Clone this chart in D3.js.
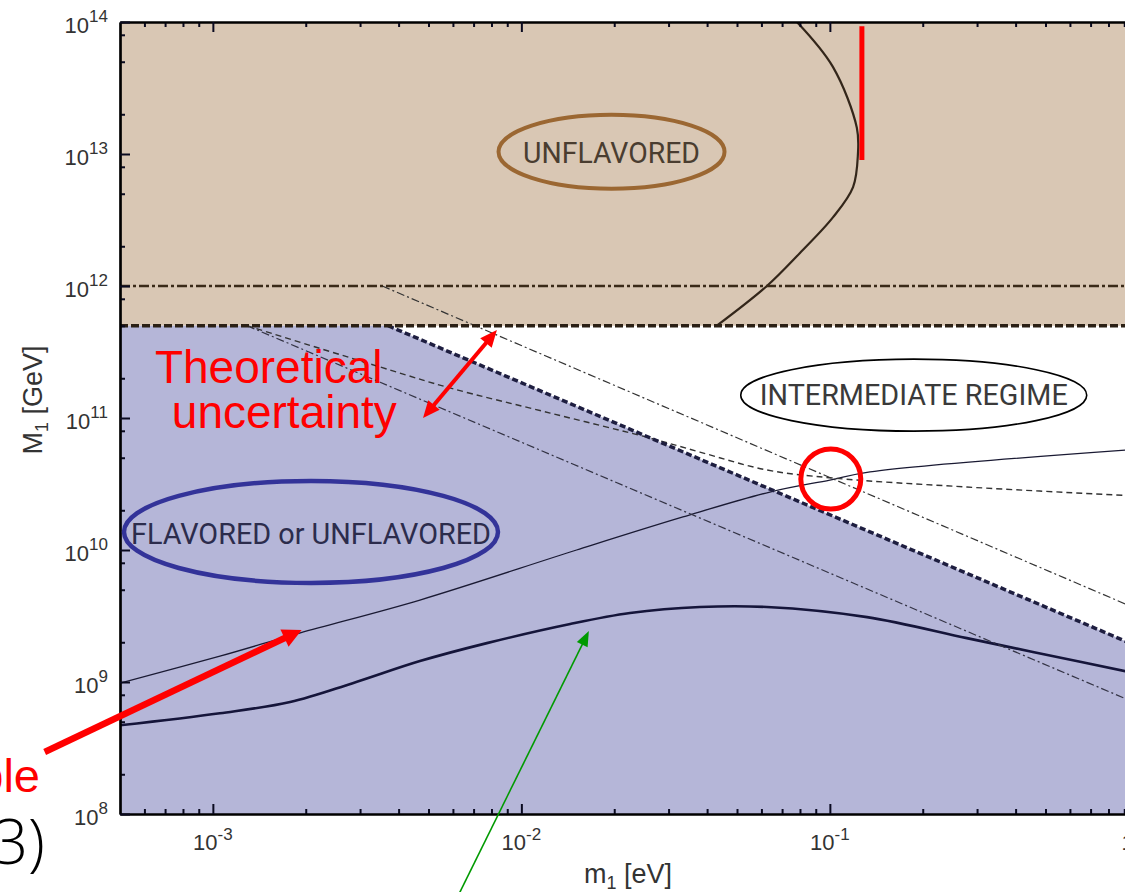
<!DOCTYPE html>
<html><head><meta charset="utf-8">
<script src="https://cdn.jsdelivr.net/npm/d3@7"></script>
<style>body{margin:0;background:#fff}svg{display:block}</style>
</head><body><svg id="c" width="1125" height="892"></svg>
<script>
// ---------------- data ----------------
const xMajorTicks = [1e-3, 1e-2, 1e-1, 1];
const xTickExponents = ["-3", "-2", "-1", "0"];
const yMajorTicks = [1e8, 1e9, 1e10, 1e11, 1e12, 1e13, 1e14];
const yTickExponents = ["8", "9", "10", "11", "12", "13", "14"];
const xMinorMantissas = [2, 3, 4, 5, 6, 7, 8, 9];
const yMinorMantissas = [2, 5, 8];

const unflavoredThreshold = 5e11;     // M1 above which: unflavored
const dashDotLevel = 1e12;            // horizontal dash-dot line
const flavorBoundary = [[3.7e-3, 5e11], [1, 1.85e9]];
const upperDashDot = [[3.54e-3, 1e12], [1, 3.54e9]];
const lowerDashDot = [[1.29e-3, 5e11], [1, 6.8e8]];
const dashedCurve = [[1.29e-3, 5e11], [3.75e-3, 2.31e11], [5.86e-3, 1.69e11], [1.24e-2, 1.09e11],
  [2.61e-2, 7.05e10], [3.79e-2, 5.52e10], [6.25e-2, 4.04e10], [0.102, 3.51e10], [0.278, 3.0e10], [1, 2.56e10]];
const thinSolid = [[5e-4, 9.8e8], [1.054e-3, 1.57e9], [1.91e-3, 2.35e9], [4.69e-3, 4.18e9], [1.51e-2, 1.0e10],
  [3.34e-2, 1.78e10], [6.39e-2, 2.75e10], [0.1, 3.39e10], [0.135, 3.9e10], [1, 5.8e10]];
const thickSolid = [[5e-4, 4.7e8], [1.054e-3, 5.8e8], [1.78e-3, 7.05e8], [2.84e-3, 9.8e8], [4.69e-3, 1.44e9],
  [7.73e-3, 1.97e9], [1.44e-2, 2.75e9], [2.25e-2, 3.33e9], [3.79e-2, 3.7e9], [6.25e-2, 3.7e9],
  [0.132, 3.1e9], [0.278, 2.15e9], [0.455, 1.69e9], [1, 1.15e9]];
const tanCurve = [[0.0782, 1e14], [0.1023, 4.57e13], [0.1223, 1.58e13], [0.1233, 1e13], [0.1189, 5.62e12],
  [0.1023, 3.31e12], [0.08, 1.78e12], [0.0625, 1e12], [0.043, 5e11]];

// annotations (data coordinates)
const redBar = [[0.127, 9.3e13], [0.127, 9.0e12]];
const redCircleCenter = [0.1007, 3.45e10];
const theoryArrow = [[8.33e-3, 4.64e11], [4.8e-3, 1.0e11]];
const bottomRedArrow = [[2.85e-4, 2.95e8], [1.94e-3, 2.48e9]];
const greenArrow = [[6.0e-3, 2.0e7], [1.655e-2, 2.43e9]];
const theoryTextAnchors = [[6.49e-4, 1.84e11], [7.36e-4, 8.4e10]];
const theoryText = ["Theoretical", "uncertainty"];
const regionLabels = [
  {text: "UNFLAVORED", at: [1.96e-2, 1.04e13], rx: 113, ry: 37, stroke: "#9b6732", sw: 4, color: "#4a3d30", len: 177, dy: 11},
  {text: "INTERMEDIATE REGIME", at: [0.187, 1.49e11], rx: 173, ry: 36, stroke: "#000", sw: 1.6, color: "#3a3a3a", len: 308, dy: 10},
  {text: "FLAVORED or UNFLAVORED", at: [2.08e-3, 1.37e10], rx: 187, ry: 51, stroke: "#333399", sw: 4.5, color: "#2c2c4c", len: 360, dy: 12}
];

// ---------------- scales ----------------
const svg = d3.select("#c");
const x = d3.scaleLog().domain([5e-4, 1]).range([120, 120 + 308.5 * Math.log10(1 / 5e-4)]);
const y = d3.scaleLog().domain([1e8, 1e14]).range([814, 22]);
const X0 = x.range()[0], X1 = x.range()[1], Y0 = y.range()[0], Y1 = y.range()[1];

svg.append("defs").append("clipPath").attr("id", "plot")
  .append("rect").attr("x", X0).attr("y", Y1).attr("width", X1 - X0).attr("height", Y0 - Y1);

const plot = svg.append("g").attr("clip-path", "url(#plot)");
const line = d3.line().x(d => x(d[0])).y(d => y(d[1]));
const curve = d3.line().x(d => x(d[0])).y(d => y(d[1])).curve(d3.curveCatmullRom.alpha(0.5));

// fills
plot.append("rect").attr("x", X0).attr("width", X1 - X0)
  .attr("y", y(1e14)).attr("height", y(unflavoredThreshold) - y(1e14)).attr("fill", "#d9c7b4");
const dom = x.domain();
const bluePoly = [[dom[0], unflavoredThreshold], flavorBoundary[0], flavorBoundary[1], [dom[1], 1e8], [dom[0], 1e8]];
plot.append("path").attr("d", line(bluePoly) + "Z").attr("fill", "#b5b6d8");

// lines
function drawLine(data, gen, stroke, width, dash) {
  const p = plot.append("path").attr("d", gen(data)).attr("fill", "none")
    .attr("stroke", stroke).attr("stroke-width", width);
  if (dash) p.attr("stroke-dasharray", dash);
  return p;
}
drawLine(thickSolid, curve, "#15153a", 2.6);
drawLine(thinSolid, curve, "#1a1a33", 1.3);
drawLine(lowerDashDot, line, "#333344", 1.2, "8,3,2,3");
drawLine(upperDashDot, line, "#333", 1.2, "8,3,2,3");
drawLine(dashedCurve, curve, "#333", 1.4, "6,4");
drawLine(flavorBoundary, line, "#1e1e40", 3.5, "6,3");
drawLine(tanCurve, curve, "#33261a", 2.2);
drawLine([[dom[0], dashDotLevel], [dom[1], dashDotLevel]], line, "#3a2a18", 2.5, "10,3,3,3");
drawLine([[dom[0], unflavoredThreshold], [dom[1], unflavoredThreshold]], line, "#2b2015", 3.5, "8,3");

// ---------------- axes ----------------
const xMinor = [];
for (let e = -4; e <= -1; e++) xMinorMantissas.forEach(k => { const v = k * Math.pow(10, e); if (v > dom[0] && v < dom[1]) xMinor.push(v); });
const yMinor = [];
for (let e = 8; e <= 13; e++) yMinorMantissas.forEach(k => yMinor.push(k * Math.pow(10, e)));

function styleAxis(g) {
  g.select(".domain").attr("stroke", "#000").attr("stroke-width", 2.2);
  g.selectAll(".tick line").attr("stroke", "#0a0a20").attr("stroke-width", 2);
  g.selectAll(".tick text").remove();
}
const axB = svg.append("g").attr("transform", `translate(0,${Y0})`);
axB.call(d3.axisBottom(x).tickValues(xMinor).tickSize(-5).tickSizeOuter(0)).call(styleAxis);
axB.append("g").call(d3.axisBottom(x).tickValues(xMajorTicks).tickSize(-10).tickSizeOuter(0)).call(styleAxis);
const axT = svg.append("g").attr("transform", `translate(0,${Y1})`);
axT.call(d3.axisTop(x).tickValues(xMinor).tickSize(-5).tickSizeOuter(0)).call(styleAxis);
axT.append("g").call(d3.axisTop(x).tickValues(xMajorTicks).tickSize(-10).tickSizeOuter(0)).call(styleAxis);
const axL = svg.append("g").attr("transform", `translate(${X0},0)`);
axL.call(d3.axisLeft(y).tickValues(yMinor).tickSize(-5).tickSizeOuter(0)).call(styleAxis);
axL.append("g").call(d3.axisLeft(y).tickValues(yMajorTicks).tickSize(-10).tickSizeOuter(0)).call(styleAxis);

const labelFont = "'Liberation Sans', Arial, sans-serif";
xMajorTicks.forEach((v, i) => {
  const t = axB.append("text").attr("x", x(v)).attr("y", 36).attr("text-anchor", "middle")
    .attr("font-family", labelFont).attr("font-size", 22).attr("fill", "#333");
  t.append("tspan").text("10");
  t.append("tspan").attr("dy", -10).attr("font-size", 17).text(xTickExponents[i]);
});
yMajorTicks.forEach((v, i) => {
  const t = axL.append("text").attr("x", -12).attr("y", y(v) + 11).attr("text-anchor", "end")
    .attr("font-family", labelFont).attr("font-size", 22).attr("fill", "#333");
  t.append("tspan").text("10");
  t.append("tspan").attr("dy", -11).attr("font-size", 17).text(yTickExponents[i]);
});

// axis titles
const xt = svg.append("text").attr("x", 628).attr("y", 883)
  .attr("text-anchor", "middle").attr("font-family", labelFont).attr("font-size", 27).attr("fill", "#333");
xt.append("tspan").text("m");
xt.append("tspan").attr("font-size", 18).attr("dy", 6).text("1");
xt.append("tspan").attr("dy", -6).text(" [eV]");
const yt = svg.append("text").attr("transform", `translate(42,400)rotate(-90)`)
  .attr("text-anchor", "middle").attr("font-family", labelFont).attr("font-size", 27).attr("fill", "#333");
yt.append("tspan").text("M");
yt.append("tspan").attr("font-size", 18).attr("dy", 6).text("1");
yt.append("tspan").attr("dy", -6).text(" [GeV]");

// ---------------- annotations ----------------
const ann = svg.append("g");
regionLabels.forEach(r => {
  const cx = x(r.at[0]), cy = y(r.at[1]);
  ann.append("ellipse").attr("cx", cx).attr("cy", cy).attr("rx", r.rx).attr("ry", r.ry)
    .attr("fill", "none").attr("stroke", r.stroke).attr("stroke-width", r.sw);
  ann.append("text").attr("x", cx).attr("y", cy + r.dy).attr("text-anchor", "middle")
    .attr("font-family", "Roboto, 'Liberation Sans', sans-serif").attr("font-weight", 400).attr("font-size", 30)
    .attr("textLength", r.len).attr("lengthAdjust", "spacingAndGlyphs")
    .attr("fill", r.color).text(r.text);
});

// red vertical bar
ann.append("path").attr("d", line(redBar)).attr("stroke", "#ff0000").attr("stroke-width", 5);
// red circle
ann.append("circle").attr("cx", x(redCircleCenter[0])).attr("cy", y(redCircleCenter[1])).attr("r", 30)
  .attr("fill", "none").attr("stroke", "#ff0000").attr("stroke-width", 5);

function arrow(pts, color, width, hl, hw, both) {
  const a = [x(pts[0][0]), y(pts[0][1])], b = [x(pts[1][0]), y(pts[1][1])];
  const dx = b[0] - a[0], dy = b[1] - a[1], L = Math.hypot(dx, dy);
  const u = [dx / L, dy / L], n = [-u[1], u[0]];
  const s = both ? [a[0] + u[0] * hl * 0.8, a[1] + u[1] * hl * 0.8] : a;
  const e = [b[0] - u[0] * hl * 0.8, b[1] - u[1] * hl * 0.8];
  ann.append("line").attr("x1", s[0]).attr("y1", s[1]).attr("x2", e[0]).attr("y2", e[1])
    .attr("stroke", color).attr("stroke-width", width);
  function head(tip, dir) {
    const base = [tip[0] - dir[0] * hl, tip[1] - dir[1] * hl];
    const p = [tip, [base[0] + n[0] * hw / 2, base[1] + n[1] * hw / 2], [base[0] - n[0] * hw / 2, base[1] - n[1] * hw / 2]];
    ann.append("path").attr("d", "M" + p.map(q => q.join(",")).join("L") + "Z").attr("fill", color);
  }
  head(b, u);
  if (both) head(a, [-u[0], -u[1]]);
}
arrow(theoryArrow, "#ff0000", 4, 17, 15, true);
arrow(bottomRedArrow, "#ff0000", 6.5, 19, 19, false);
arrow(greenArrow, "#009a00", 1.6, 15, 12, false);

// red text
theoryText.forEach((t, i) => {
  ann.append("text").attr("x", x(theoryTextAnchors[i][0])).attr("y", y(theoryTextAnchors[i][1]))
    .attr("font-family", labelFont).attr("font-size", 46).attr("fill", "#ff0000").text(t);
});
// cut-off slide fragments at the left edge
ann.append("text").attr("x", 40).attr("y", 792).attr("text-anchor", "end")
  .attr("font-family", labelFont).attr("font-size", 47).attr("fill", "#ff0000").text("possible");
ann.append("text").attr("x", 45).attr("y", 864).attr("text-anchor", "end")
  .attr("font-family", "'Open Sans', sans-serif").attr("font-weight", 300).attr("font-size", 62)
  .attr("fill", "#000").text("m3)");
</script></body></html>
